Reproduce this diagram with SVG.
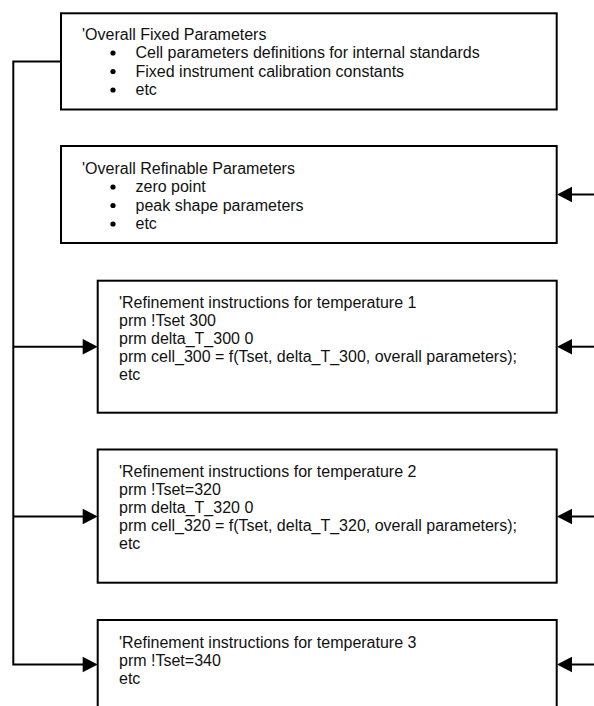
<svg xmlns="http://www.w3.org/2000/svg" width="594" height="706" viewBox="0 0 594 706">
<defs>
<style>
.box{fill:#fff;stroke:#000;stroke-width:2}
.t{font-family:"Liberation Sans",Arial,sans-serif;font-size:16px;fill:#111}
.ln{fill:none;stroke:#000;stroke-width:2}
.ah{fill:#000}
</style>
</defs>
<rect width="594" height="706" fill="#fff"/>
<g id="connectors">
<path class="ln" d="M61,61.5 H13.3 V664.5 H84"/>
<path class="ln" d="M13.3,346.7 H84"/>
<path class="ln" d="M13.3,516.5 H84"/>
<path class="ah" d="M97.7,346.7 L82.7,339 L82.7,354.4 Z"/>
<path class="ah" d="M97.7,516.5 L82.7,508.8 L82.7,524.2 Z"/>
<path class="ah" d="M97.7,664.5 L82.7,656.8 L82.7,672.2 Z"/>
<path class="ln" d="M594,194.5 H571"/>
<path class="ln" d="M594,346.7 H571"/>
<path class="ln" d="M594,516.5 H571"/>
<path class="ln" d="M594,664.5 H571"/>
<path class="ah" d="M557,194.5 L572,186.8 L572,202.2 Z"/>
<path class="ah" d="M557,346.7 L572,339 L572,354.4 Z"/>
<path class="ah" d="M557,516.5 L572,508.8 L572,524.2 Z"/>
<path class="ah" d="M557,664.5 L572,656.8 L572,672.2 Z"/>
</g>
<g id="fixed">
<rect class="box" x="61" y="13.3" width="495.7" height="96.2"/>
<text class="t" x="82" y="39.5">'Overall Fixed Parameters</text>
<circle cx="113" cy="53" r="2.6"/><text class="t" x="135.5" y="58">Cell parameters definitions for internal standards</text>
<circle cx="113" cy="71.5" r="2.6"/><text class="t" x="135.5" y="76.5">Fixed instrument calibration constants</text>
<circle cx="113" cy="90" r="2.6"/><text class="t" x="135.5" y="95">etc</text>
</g>
<g id="refinable">
<rect class="box" x="61" y="146" width="495.7" height="97"/>
<text class="t" x="82" y="173.5">'Overall Refinable Parameters</text>
<circle cx="113" cy="187" r="2.6"/><text class="t" x="135.5" y="192">zero point</text>
<circle cx="113" cy="205.5" r="2.6"/><text class="t" x="135.5" y="210.5">peak shape parameters</text>
<circle cx="113" cy="224" r="2.6"/><text class="t" x="135.5" y="229">etc</text>
</g>
<g id="temp1">
<rect class="box" x="97.7" y="280.7" width="459" height="132"/>
<text class="t" x="119" y="308">'Refinement instructions for temperature 1</text>
<text class="t" x="119" y="326">prm !Tset 300</text>
<text class="t" x="119" y="344">prm delta_T_300 0</text>
<text class="t" x="119" y="362">prm cell_300 = f(Tset, delta_T_300, overall parameters);</text>
<text class="t" x="119" y="380">etc</text>
</g>
<g id="temp2">
<rect class="box" x="97.7" y="449.5" width="459" height="133.2"/>
<text class="t" x="119" y="477">'Refinement instructions for temperature 2</text>
<text class="t" x="119" y="495">prm !Tset=320</text>
<text class="t" x="119" y="513">prm delta_T_320 0</text>
<text class="t" x="119" y="531">prm cell_320 = f(Tset, delta_T_320, overall parameters);</text>
<text class="t" x="119" y="549">etc</text>
</g>
<g id="temp3">
<rect class="box" x="97.7" y="620" width="459" height="100"/>
<text class="t" x="119" y="647.5">'Refinement instructions for temperature 3</text>
<text class="t" x="119" y="665.5">prm !Tset=340</text>
<text class="t" x="119" y="683.5">etc</text>
</g>
</svg>
